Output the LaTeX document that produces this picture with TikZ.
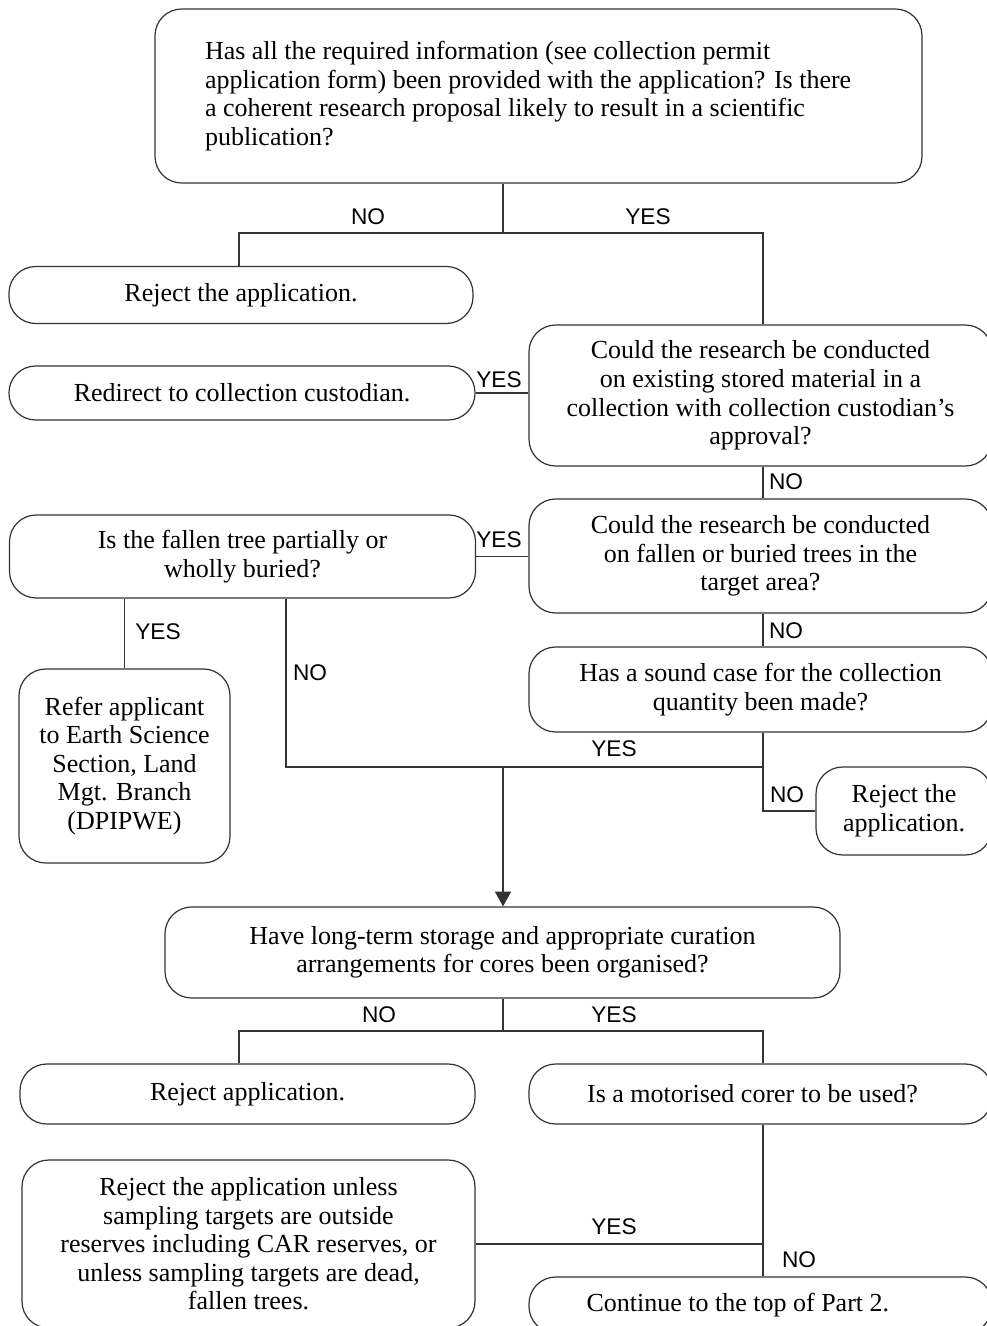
\documentclass[tikz,border=0pt]{standalone}
\usepackage{fontspec}
\setmainfont{Liberation Serif}
\newfontfamily\lblfont{Liberation Sans}
\usetikzlibrary{arrows.meta}
\newdimen\pxu \pxu=0.75pt
\tikzset{
  box/.style={draw=black!80, line width=0.9pt, rounded corners=20pt, inner sep=0pt,
    align=center, font=\fontsize{19.5}{21.4}\selectfont},
  lbl/.style={font=\lblfont\fontsize{17}{20}\selectfont, inner sep=0pt},
  wire/.style={draw=black!80, line width=0.9pt},
  tip/.style={-{Triangle[width=12pt,length=11pt]}}
}
\begin{document}
\begin{tikzpicture}[x=0.75pt,y=-0.75pt]
\useasboundingbox (0,0) rectangle (987,1326);
\clip (0,0) rectangle (987,1326);

% boxes
\node[box, align=flush left, text width=667\pxu, minimum width=767\pxu, minimum height=174\pxu] (q1) at (538.5,96)
  {Has all the required information (see collection permit\\application form) been provided with the application? Is there\\a coherent research proposal likely to result in a scientific\\publication?};
\node[box, minimum width=464\pxu, minimum height=57\pxu] (rej1) at (241,295) {Reject the application.};
\node[box, minimum width=463\pxu, minimum height=141\pxu] (q2) at (760.5,395.5)
  {Could the research be conducted\\on existing stored material in a\\collection with collection custodian’s\\approval?};
\node[box, minimum width=466\pxu, minimum height=54\pxu] (redirect) at (242,393) {Redirect to collection custodian.};
\node[box, minimum width=463\pxu, minimum height=114\pxu] (q3) at (760.5,556)
  {Could the research be conducted\\on fallen or buried trees in the\\target area?};
\node[box, minimum width=466\pxu, minimum height=83\pxu] (fallen) at (242.5,556.5)
  {Is the fallen tree partially or\\wholly buried?};
\node[box, minimum width=211\pxu, minimum height=194\pxu] (refer) at (124.5,766)
  {Refer applicant\\to Earth Science\\Section, Land\\Mgt. Branch\\(DPIPWE)};
\node[box, minimum width=463\pxu, minimum height=85\pxu] (q4) at (760.5,689.5)
  {Has a sound case for the collection\\quantity been made?};
\node[box, minimum width=176\pxu, minimum height=88\pxu] (rej2) at (904,811)
  {Reject the\\application.};
\node[box, minimum width=675\pxu, minimum height=91\pxu] (q5) at (502.5,952.5)
  {Have long-term storage and appropriate curation\\arrangements for cores been organised?};
\node[box, minimum width=455\pxu, minimum height=60\pxu] (rej3) at (247.5,1094) {Reject application.};
\node[box, minimum width=463\pxu, minimum height=60\pxu] (q6) at (760.5,1094)
  {Is a motorised corer to be used?\hspace*{12pt}};
\node[box, minimum width=453\pxu, minimum height=168\pxu] (rej4) at (248.5,1244)
  {Reject the application unless\\sampling targets are outside\\reserves including CAR reserves, or\\unless sampling targets are dead,\\fallen trees.};
\node[box, minimum width=463\pxu, minimum height=56\pxu] (cont) at (760.5,1305)
  {Continue to the top of Part 2.\hspace*{34pt}};

% junction coordinates
\coordinate (j1) at (503,233);
\coordinate (j1l) at (239,233);
\coordinate (j1r) at (763,233);
\coordinate (j2) at (503,767);
\coordinate (j2l) at (286,767);
\coordinate (j2r) at (763,767);
\coordinate (j3) at (503,1031);
\coordinate (j3l) at (239,1031);
\coordinate (j3r) at (763,1031);
\coordinate (j4) at (763,1244);

% connectors
\draw[wire] (q1.south -| j1) -- (j1);
\draw[wire] (rej1.north -| j1l) -- (j1l) -- (j1r) -- (q2.north -| j1r);
\draw[wire] (redirect.east) -- (redirect.east -| q2.west);
\draw[wire] (q2.south -| j1r) -- (q3.north -| j1r);
\draw[wire] (fallen.east) -- (fallen.east -| q3.west);
\draw[wire] (q3.south -| j1r) -- (q4.north -| j1r);
\draw[wire] (fallen.south -| refer.north) -- (refer.north);
\draw[wire] (fallen.south -| j2l) -- (j2l) -- (j2r);
\draw[wire] (q4.south -| j2r) -- (j2r) |- (rej2.west);
\draw[wire, tip] (j2) -- (q5.north -| j2);
\draw[wire] (q5.south -| j3) -- (j3);
\draw[wire] (rej3.north -| j3l) -- (j3l) -- (j3r) -- (q6.north -| j3r);
\draw[wire] (q6.south -| j4) -- (cont.north -| j4);
\draw[wire] (rej4.east) -- (rej4.east -| j4);

% labels
\node[lbl] (l1) at (368,217) {NO};
\node[lbl] (l2) at (648,217) {YES};
\node[lbl] (l3) at (499,380) {YES};
\node[lbl] (l4) at (786,482) {NO};
\node[lbl] (l5) at (499,540) {YES};
\node[lbl] (l6) at (786,631) {NO};
\node[lbl] (l7) at (158,632) {YES};
\node[lbl] (l8) at (310,673) {NO};
\node[lbl] (l9) at (614,749) {YES};
\node[lbl] (l10) at (787,795) {NO};
\node[lbl] (l11) at (379,1015) {NO};
\node[lbl] (l12) at (614,1015) {YES};
\node[lbl] (l13) at (614,1227) {YES};
\node[lbl] (l14) at (799,1260) {NO};
\end{tikzpicture}
\end{document}
